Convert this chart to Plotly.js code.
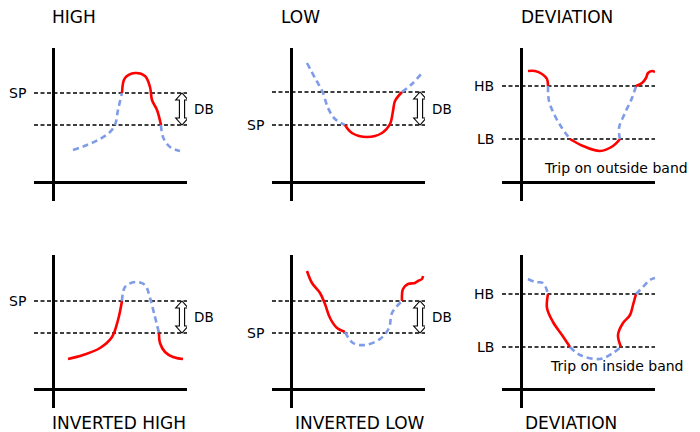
<!DOCTYPE html>
<html><head><meta charset="utf-8">
<script src="https://cdn.plot.ly/plotly-3.0.1.min.js"></script>
<style>html,body{margin:0;padding:0;background:#fff}#chart{width:700px;height:432px}</style>
</head><body><div id="chart"></div>
<script>
// ---- text ----
const topTitles = ["HIGH", "LOW", "DEVIATION"];
const bottomTitles = ["INVERTED HIGH", "INVERTED LOW", "DEVIATION"];
const bandLabel = "DB";
const tripOutsideText = "Trip on outside band";
const tripInsideText = "Trip on inside band";

// ---- threshold levels (upper, lower) and their labels, per panel ----
const highLevels = [89, 57],  highLevelLabels = ["SP", ""];
const lowLevels = [90, 57],   lowLevelLabels = ["", "SP"];
const devLevels = [96, 43],   devLevelLabels = ["HB", "LB"];
const invHighLevels = [88, 56], invHighLevelLabels = ["SP", ""];
const invLowLevels = [88, 56],  invLowLevelLabels = ["", "SP"];
const invDevLevels = [95, 42],  invDevLevelLabels = ["HB", "LB"];

// ---- process curves: segments, and whether each segment is in trip (red) ----
const highX = [[20,34,47,57,62,65,69],[69,72,82,92,97,99,104,108],[108,110,117,127]];
const highY = [[32,37,43,50,57,72,89],[89,104,109,106,95,82,72,57],[57,45,35,31]];
const highTrip = [false, true, false];

const lowX = [[16,24,32,37,44,54],[54,61,76,91,99,102,104,111],[111,121,131]];
const lowY = [[119,104,89,74,63,57],[57,49,45,49,58,71,81,90],[90,98,109]];
const lowTrip = [false, true, false];

const devX = [[7,14,21,26,27],[27,28,34,41,49],[49,62,79,92,99],[99,98,104,111,115],[115,121,125,127,131,134]];
const devY = [[111,111,108,103,96],[96,81,66,54,43],[43,36,31,36,43],[43,54,69,84,96],[96,99,104,109,111,110]];
const devTrip = [true, false, true, false, true];

const invHighX = [[15,30,47,59,65,69],[69,72,82,92,97,101,106],[106,107,112,120,130]];
const invHighY = [[30,34,41,52,69,88],[88,102,107,104,91,76,56],[56,46,37,32,30]];
const invHighTrip = [true, false, true];

const invLowX = [[16,21,29,34,39,46,54],[54,62,74,89,98,101,111],[111,112,117,124,127,131,132]];
const invLowY = [[118,106,96,85,71,61,57],[57,46,44,50,61,76,88],[88,100,105,106,108,110,113]];
const invLowTrip = [true, false, true];

const invDevX = [[7,14,22,27],[27,26,32,41,49],[49,59,79,92,100],[100,97,102,109,112,115],[115,122,129,134]];
const invDevY = [[110,107,106,95],[95,81,67,54,42],[42,34,30,36,42],[42,54,66,74,84,95],[95,102,109,111]];
const invDevTrip = [false, true, false, true, false];

// ---- layout geometry (pixels) ----
const W = 700, H = 432;
const originX = [53, 291, 521];
const originY = [182, 389];
const axRange = [-19, 134];

const panels = [
  {xs: highX, ys: highY, trip: highTrip, lv: highLevels, lb: highLevelLabels, db: true},
  {xs: lowX, ys: lowY, trip: lowTrip, lv: lowLevels, lb: lowLevelLabels, db: true},
  {xs: devX, ys: devY, trip: devTrip, lv: devLevels, lb: devLevelLabels, db: false, note: tripOutsideText, noteX: 21, noteY: 14},
  {xs: invHighX, ys: invHighY, trip: invHighTrip, lv: invHighLevels, lb: invHighLevelLabels, db: true},
  {xs: invLowX, ys: invLowY, trip: invLowTrip, lv: invLowLevels, lb: invLowLevelLabels, db: true},
  {xs: invDevX, ys: invDevY, trip: invDevTrip, lv: invDevLevels, lb: invDevLevelLabels, db: false, note: tripInsideText, noteX: 27, noteY: 23}
];

const FONT = "DejaVu Sans";
const RED = "#ff0000", BLUE = "#7f9ce8";
const traces = [], shapes = [], annotations = [];
const layout = {
  width: W, height: H, margin: {l: 0, r: 0, t: 0, b: 0},
  paper_bgcolor: "#fff", plot_bgcolor: "rgba(0,0,0,0)",
  showlegend: false, font: {family: FONT, color: "#000"}
};

panels.forEach((p, i) => {
  const col = i % 3, row = Math.floor(i / 3);
  const ox = originX[col], oy = originY[row];
  const px = v => (ox + v) / W;          // local x -> paper
  const py = v => (H - (oy - v)) / H;    // local y -> paper
  const sfx = i === 0 ? "" : String(i + 1);
  const xa = "x" + sfx, ya = "y" + sfx;
  const axCommon = {range: axRange, showgrid: false, showticklabels: false, ticks: "",
    showline: false, zeroline: true, zerolinecolor: "#000", zerolinewidth: 3, fixedrange: true};
  layout["xaxis" + sfx] = Object.assign({}, axCommon, {anchor: ya,
    domain: [px(axRange[0]), px(axRange[1])]});
  layout["yaxis" + sfx] = Object.assign({}, axCommon, {anchor: xa,
    domain: [py(axRange[0]), py(axRange[1])]});

  // threshold lines
  p.lv.forEach((lvl, k) => {
    shapes.push({type: "line", xref: xa + " domain", yref: ya, x0: 0, x1: 1, y0: lvl, y1: lvl,
      line: {color: "#000", width: 1.6, dash: "4px,2.5px"}, layer: "below"});
    if (p.lb[k]) annotations.push({xref: "paper", yref: "paper", x: px(-25), y: py(lvl), text: p.lb[k],
      showarrow: false, xanchor: "right", yanchor: "middle", font: {size: 14, family: FONT}});
  });

  // curves
  p.xs.forEach((sx, k) => {
    const trip = p.trip[k];
    traces.push({type: "scatter", mode: "lines", x: sx, y: p.ys[k], xaxis: xa, yaxis: ya,
      hoverinfo: "skip", cliponaxis: false,
      line: trip ? {color: RED, width: 2.6, shape: "spline", smoothing: 1}
                 : {color: BLUE, width: 2.6, shape: "spline", smoothing: 1, dash: "6px,4px"}});
  });

  // dead band arrow
  if (p.db) {
    const cx = 129, y1 = p.lv[0], y0 = p.lv[1], hw = 6.3, sw = 2.6, hh = 7;
    const path = `M${cx},${y1} L${cx+hw},${y1-hh} L${cx+sw},${y1-hh} L${cx+sw},${y0+hh} L${cx+hw},${y0+hh} ` +
                 `L${cx},${y0} L${cx-hw},${y0+hh} L${cx-sw},${y0+hh} L${cx-sw},${y1-hh} L${cx-hw},${y1-hh} Z`;
    shapes.push({type: "path", xref: xa, yref: ya, path: path, fillcolor: "#fff",
      line: {color: "#000", width: 1.1}});
    annotations.push({xref: "paper", yref: "paper", x: px(139), y: py((y1 + y0) / 2), text: bandLabel, showarrow: false,
      xanchor: "left", yanchor: "middle", font: {size: 13.5, family: FONT}});
  }
  if (p.note) {
    annotations.push({xref: "paper", yref: "paper", x: px(p.noteX), y: py(p.noteY), text: p.note, showarrow: false,
      xanchor: "left", yanchor: "middle", font: {size: 14, family: FONT}});
  }
});

// panel titles
const topTitleX = [50, 279, 519], bottomTitleX = [50, 293, 523];
topTitles.forEach((t, i) => annotations.push({xref: "paper", yref: "paper", x: topTitleX[i] / W,
  y: 1 - 17 / H, text: t, showarrow: false, xanchor: "left", yanchor: "middle", font: {size: 17, family: FONT}}));
bottomTitles.forEach((t, i) => annotations.push({xref: "paper", yref: "paper", x: bottomTitleX[i] / W,
  y: 1 - 423 / H, text: t, showarrow: false, xanchor: "left", yanchor: "middle", font: {size: 17, family: FONT}}));

layout.shapes = shapes;
layout.annotations = annotations;
Plotly.newPlot("chart", traces, layout, {staticPlot: true, displayModeBar: false});
</script>
</body></html>
